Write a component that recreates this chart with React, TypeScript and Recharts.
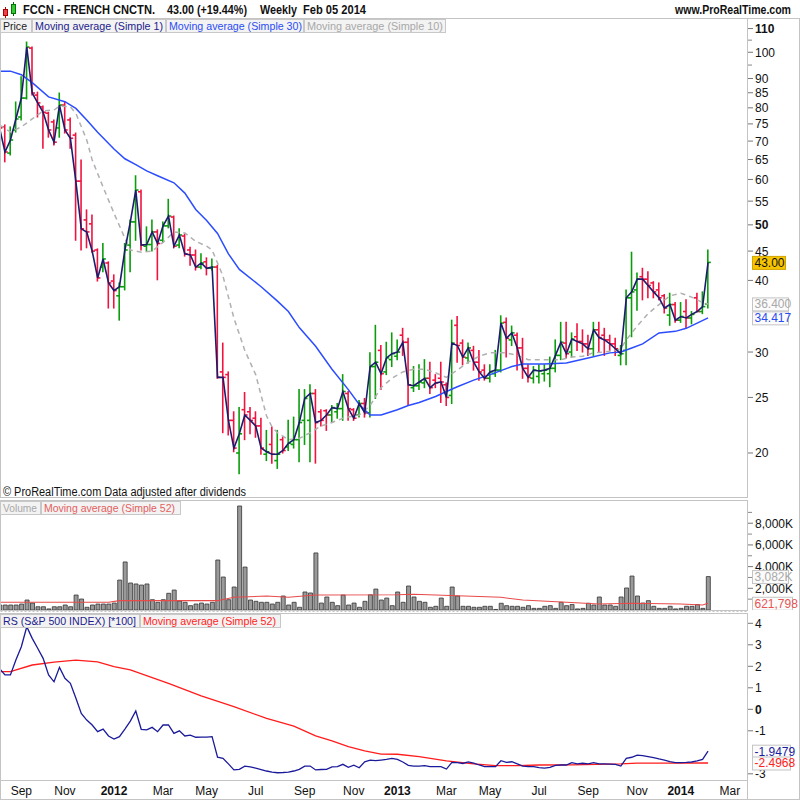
import React from "react";
import { ComposedChart, Bar, Line, XAxis, YAxis } from "recharts";

const FONT = '"Liberation Sans", Arial, Helvetica, sans-serif';

// ---------- weekly OHLC (price) ----------
const OPEN = [
  74.4, 74.1, 66.7, 73.2, 77.1, 83.2, 101.7, 84.2, 80.3, 78.3,
  75.6, 73.8, 80.9, 76.2, 71.7, 59.6, 51.0, 50.2, 45.2, 42.2,
  42.9, 39.9, 37.6, 39.0, 46.1, 50.6, 57.1, 45.9, 46.2, 48.6,
  47.0, 49.8, 51.6, 46.1, 47.8, 45.2, 44.3, 42.2, 43.1, 42.0,
  42.2, 27.7, 27.4, 22.8, 20.0, 23.8, 23.6, 23.0, 22.3, 19.9,
  20.7, 19.4, 21.1, 20.5, 20.7, 21.1, 22.8, 22.8, 25.4, 23.6,
  23.7, 23.3, 23.6, 23.9, 25.4, 23.8, 23.3, 24.4, 23.5, 28.3,
  30.2, 27.7, 29.1, 29.5, 32.1, 31.2, 26.0, 26.2, 26.5, 27.0,
  26.8, 27.0, 26.3, 25.2, 33.4, 31.1, 29.3, 30.2, 28.8, 27.9,
  27.0, 27.5, 27.9, 33.8, 31.5, 32.1, 30.5, 28.1, 27.0, 27.2,
  27.5, 27.5, 28.1, 29.6, 31.1, 30.0, 31.9, 31.3, 31.0, 30.4,
  32.8, 32.1, 31.5, 31.0, 29.6, 30.2, 37.3, 38.5, 40.6, 40.2,
  39.6, 38.5, 37.6, 34.8, 36.3, 34.1, 35.3, 34.4, 37.3, 35.3,
  36.4,
];
const HIGH = [
  76.2, 74.7, 74.1, 81.9, 90.6, 104.2, 102.1, 85.2, 80.6, 78.6,
  76.2, 84.9, 81.9, 76.8, 72.3, 64.9, 53.1, 52.0, 45.4, 46.4,
  43.1, 40.9, 39.6, 46.4, 51.0, 60.9, 57.5, 49.6, 51.0, 49.0,
  50.6, 55.4, 51.8, 49.2, 48.2, 45.7, 45.2, 44.5, 43.8, 43.6,
  42.5, 31.1, 27.7, 23.6, 24.0, 25.5, 24.0, 23.6, 23.0, 21.9,
  22.2, 21.9, 21.3, 22.8, 23.1, 25.8, 25.8, 26.3, 25.8, 23.8,
  23.8, 24.2, 24.4, 27.4, 25.6, 23.9, 24.7, 24.9, 29.9, 33.4,
  30.8, 31.2, 32.4, 31.5, 33.0, 31.7, 28.3, 28.5, 29.1, 28.8,
  27.4, 28.8, 26.5, 34.1, 34.6, 31.5, 31.1, 30.7, 30.2, 28.5,
  28.5, 30.2, 34.7, 34.4, 33.3, 32.4, 31.7, 28.5, 28.3, 28.5,
  28.5, 29.4, 31.5, 33.8, 33.8, 32.4, 33.6, 32.8, 32.1, 33.8,
  33.8, 33.0, 32.1, 31.7, 30.8, 38.5, 44.8, 41.2, 42.0, 41.4,
  39.8, 39.6, 37.8, 38.0, 36.6, 36.6, 37.0, 35.3, 38.0, 38.2,
  45.2,
];
const LOW = [
  72.6, 64.4, 66.2, 72.6, 76.2, 82.9, 84.2, 77.1, 68.0, 71.1,
  68.9, 71.1, 72.3, 68.0, 47.0, 45.2, 45.6, 44.8, 39.9, 41.4,
  35.8, 35.8, 34.1, 38.5, 41.4, 47.0, 45.2, 45.0, 45.0, 40.1,
  46.6, 49.4, 45.6, 45.6, 44.1, 42.5, 41.7, 41.9, 40.9, 41.7,
  27.0, 21.7, 21.5, 20.1, 18.4, 21.1, 21.6, 21.3, 19.9, 19.4,
  19.2, 18.8, 20.0, 20.2, 20.4, 19.3, 20.7, 19.3, 19.2, 22.3,
  21.9, 22.6, 23.0, 22.8, 22.8, 22.8, 23.1, 23.1, 23.1, 24.9,
  25.8, 27.4, 28.3, 29.1, 29.6, 24.2, 25.6, 25.8, 26.0, 25.4,
  26.0, 24.5, 24.2, 24.4, 28.8, 28.5, 28.7, 27.9, 26.8, 26.8,
  26.6, 27.2, 27.7, 29.4, 30.8, 27.9, 27.0, 26.6, 26.5, 26.5,
  26.7, 26.1, 27.7, 29.1, 29.3, 29.4, 30.2, 30.0, 29.6, 29.6,
  30.0, 29.6, 30.2, 29.6, 28.5, 28.5, 31.9, 35.5, 37.0, 37.3,
  37.3, 37.0, 35.1, 33.4, 33.8, 33.8, 33.1, 33.6, 35.3, 35.0,
  35.8,
];
const CLOSE = [
  73.8, 67.0, 70.3, 76.5, 83.2, 102.1, 84.9, 81.6, 78.6, 73.2,
  69.7, 80.9, 73.2, 70.8, 59.6, 49.2, 48.6, 45.0, 40.4, 43.6,
  39.6, 38.4, 39.0, 45.2, 50.6, 57.5, 46.1, 46.2, 48.6, 46.4,
  49.8, 51.8, 45.9, 48.0, 44.5, 44.3, 42.2, 42.9, 42.0, 42.2,
  27.1, 27.1, 22.8, 20.4, 21.6, 23.3, 22.8, 22.3, 20.4, 20.1,
  19.9, 19.9, 20.2, 20.8, 21.1, 22.6, 24.9, 25.4, 22.6, 22.8,
  23.3, 24.0, 23.9, 25.6, 23.9, 23.0, 24.4, 23.5, 28.3, 28.8,
  27.5, 29.3, 29.8, 30.0, 31.2, 26.3, 26.2, 26.6, 27.0, 26.0,
  26.5, 26.6, 25.0, 31.1, 30.8, 29.4, 30.5, 28.8, 27.7, 27.0,
  27.7, 27.9, 33.7, 31.7, 32.4, 30.5, 28.1, 27.1, 27.9, 27.8,
  27.9, 28.1, 29.6, 31.2, 29.8, 31.6, 31.3, 31.0, 30.4, 32.8,
  31.8, 31.5, 31.0, 30.4, 29.8, 37.3, 38.2, 40.2, 40.2, 39.2,
  38.2, 37.3, 35.8, 36.3, 34.1, 34.6, 34.4, 34.9, 35.3, 36.0,
  43.0,
];

// moving averages read from the picture: [week index, value]
const SMA30_PTS = [
  [0, 92.7], [2, 92.7], [4, 91.4], [6, 88.5], [9, 83.6], [12, 82.0], [14, 79.8],
  [16, 76.2], [18, 72.5], [21, 67.8], [23, 65.2], [25, 63.7], [27, 62.1], [29, 60.9],
  [32, 59.2], [34, 56.8], [36, 53.2], [38, 50.9], [40, 48.3], [42, 44.5], [44, 41.8],
  [48, 39.0], [51, 36.8], [53, 35.3], [55, 33.1], [58, 30.7], [61, 28.0], [64, 25.8],
  [66, 24.3], [68, 23.3], [70, 23.3], [73, 23.8], [75, 24.2], [77, 24.5], [80, 25.1],
  [82, 25.6], [84, 26.1], [87, 26.8], [90, 27.4], [94, 28.3], [96, 28.6], [100, 28.6],
  [104, 28.7], [108, 29.3], [112, 29.9], [114, 30.0], [116, 30.5], [118, 31.0],
  [121, 32.4], [124, 32.6], [126, 33.0], [128, 33.7], [130, 34.417],
];
const SMA10_PTS = [
  [0, 74.7], [2, 72.6], [4, 74.1], [6, 76.5], [8, 79.0], [10, 79.3], [11, 80.6],
  [13, 80.3], [14, 78.3], [16, 70.3], [17, 64.9], [19, 58.2], [21, 52.4], [23, 47.4],
  [24, 45.2], [26, 44.8], [28, 45.0], [30, 46.6], [32, 48.6], [34, 48.4], [36, 46.8],
  [38, 45.9], [39, 45.2], [41, 40.7], [43, 34.4], [45, 30.2], [47, 27.4], [48, 25.2],
  [49, 23.2], [50, 22.2], [51, 21.7], [53, 21.1], [55, 21.2], [57, 21.7], [59, 22.3],
  [61, 22.6], [63, 23.0], [66, 23.3], [68, 24.2], [70, 26.0], [72, 27.0], [74, 27.7],
  [76, 28.0], [78, 28.0], [80, 27.6], [82, 27.1], [84, 27.9], [86, 28.8], [88, 29.5],
  [90, 29.9], [93, 29.9], [95, 29.6], [97, 29.1], [99, 29.1], [101, 29.1], [103, 29.1],
  [105, 29.4], [107, 29.5], [109, 29.9], [111, 30.0], [113, 30.2], [114, 30.4],
  [115, 31.5], [117, 33.3], [119, 35.0], [121, 36.3], [123, 37.6], [125, 38.0],
  [127, 37.4], [129, 36.6], [130, 36.4],
];

// ---------- volume (thousands) ----------
const VOLUME_K = [
  460,
  460, 460, 460, 550, 920, 640, 300, 300, 100, 300,
  300, 460, 300, 1380, 1010, 250, 460, 550, 550, 550,
  640, 2760, 4430, 2490, 2400, 2300, 2400, 950, 710, 950,
  1540, 1840, 830, 710, 400, 550, 640, 550, 710, 4610,
  3040, 950, 2120, 9590, 3960, 920, 800, 710, 710, 550,
  710, 1290, 460, 710, 250, 1660, 1570, 5260, 640, 1200,
  710, 400, 1380, 460, 640, 250, 800, 1400, 1930, 920,
  1100, 400, 1660,
  710, 2210, 1200, 800, 710, 250, 340, 1100, 340, 2120,
  1290, 340, 340, 250, 250, 340, 340, 50, 620, 400,
  340, 340, 250, 400, 150, 150, 340, 400, 150, 710,
  400, 500, 100, 150, 620, 460, 1200, 460, 460, 340,
  1200, 2030, 3130, 1290, 640, 860, 340, 150, 150, 340,
  100, 150, 340, 340, 500, 150, 3082,
];
const VOL_MA_PTS = [
  [0, 710], [20, 710], [22, 860], [40, 860], [43, 1170], [49, 1290], [53, 1170],
  [58, 1380], [73, 1400], [76, 1450], [80, 1380], [92, 1170], [96, 920], [104, 710],
  [110, 553], [116, 620], [125, 553], [129, 460], [130, 621.798],
];

// ---------- relative strength vs S&P 500 ----------
const RS = [
  1.90, 1.60, 1.60, 2.29, 2.91, 3.84, 3.30, 2.84, 2.37, 1.60,
  1.28, 1.95, 1.44, 1.21, 0.53, -0.19, -0.50, -0.73, -1.04, -0.92,
  -1.24, -1.38, -1.27, -0.92, -0.55, -0.08, -0.93, -0.96, -0.84, -1.04,
  -0.73, -0.73, -1.12, -1.00, -1.24, -1.20, -1.30, -1.29, -1.29, -1.27,
  -2.23, -2.28, -2.54, -2.82, -2.79, -2.64, -2.68, -2.74, -2.80, -2.87,
  -2.92, -2.95, -2.94, -2.92, -2.87, -2.79, -2.64, -2.64, -2.82, -2.80,
  -2.79, -2.68, -2.67, -2.56, -2.70, -2.60, -2.72, -2.44, -2.36, -2.39,
  -2.36, -2.33, -2.28, -2.33, -2.45, -2.61, -2.64, -2.64, -2.62, -2.67,
  -2.67, -2.67, -2.78, -2.47, -2.48, -2.52, -2.45, -2.50, -2.59, -2.67,
  -2.67, -2.67, -2.39, -2.47, -2.44, -2.54, -2.64, -2.66, -2.67, -2.71,
  -2.74, -2.70, -2.61, -2.59, -2.59, -2.48, -2.54, -2.51, -2.54, -2.48,
  -2.54, -2.54, -2.55, -2.56, -2.64, -2.28, -2.23, -2.13, -2.15, -2.20,
  -2.25, -2.31, -2.36, -2.43, -2.48, -2.48, -2.47, -2.45, -2.40, -2.33,
  -1.9479,
];
const RS_MA_PTS = [
  [0, 1.75], [2, 1.75], [6, 2.06], [10, 2.19], [14, 2.29], [18, 2.21], [21, 1.98],
  [24, 1.83], [31, 1.21], [37, 0.62], [43, 0.12], [49, -0.42], [54, -0.78],
  [58, -1.24], [61, -1.47], [64, -1.74], [67, -1.93], [70, -2.08], [73, -2.09],
  [77, -2.20], [82, -2.40], [87, -2.54], [91, -2.62], [95, -2.62], [99, -2.59],
  [105, -2.58], [114, -2.54], [117, -2.50], [122, -2.50], [130, -2.4968],
];

// ---------- axis ticks & labels ----------
const PRICE_TICKS = [20, 25, 30, 40, 45, 50, 55, 60, 65, 70, 75, 80, 85, 90, 100, 110];
const PRICE_MINOR = [95, 105];
const PRICE_BOLD = [50, 110];
const VOL_TICKS = [2000, 4000, 6000, 8000];
const VOL_MINOR = [1000, 3000, 5000, 7000, 9000];
const RS_TICKS = [4, 3, 2, 1, 0, -1, -3];
const LAST_CLOSE = 43.0;
const LAST_SMA10 = 36.4;
const LAST_SMA30 = 34.417;
const LAST_VOL = 3082;
const LAST_VOL_MA = 621.798;
const LAST_RS = -1.9479;
const LAST_RS_MA = -2.4968;
const MONTH_NAMES = ["Jan", "Feb", "Mar", "Apr", "May", "Jun", "Jul", "Aug", "Sep", "Oct", "Nov", "Dec"];
const LAST_DATE = Date.UTC(2014, 1, 5);
const LAST_INDEX = 130;
const X_DOMAIN: [number, number] = [0.27, 137.33];

const GREEN = "#0a9e0a";
const RED = "#f2123f";
const NAVY = "#1c1c6c";
const BLUE = "#2b4dff";
const GREY = "#b0b0b0";

const N = CLOSE.length;
function sparse(pts: number[][]): (number | null)[] {
  const a: (number | null)[] = new Array(N).fill(null);
  for (const [i, v] of pts) a[i] = v;
  return a;
}
const sma30 = sparse(SMA30_PTS);
const sma10 = sparse(SMA10_PTS);
const volMa = sparse(VOL_MA_PTS);
const rsMa = sparse(RS_MA_PTS);

const data = CLOSE.map((c, i) => ({
  i,
  o: OPEN[i],
  h: HIGH[i],
  l: LOW[i],
  c,
  range: [LOW[i], HIGH[i]],
  sma30: sma30[i],
  sma10: sma10[i],
  vol: VOLUME_K[i],
  volMa: volMa[i],
  rs: RS[i],
  rsMa: rsMa[i],
}));

const monthTicks: { i: number; label: string; year: boolean }[] = [];
{
  let prev = -1;
  const WEEK = 7 * 24 * 3600 * 1000;
  for (let i = 0; i <= 137; i++) {
    const d = new Date(LAST_DATE - (LAST_INDEX - i) * WEEK);
    const m = d.getUTCMonth();
    if (prev !== -1 && m !== prev && m % 2 === 0) {
      monthTicks.push({ i, label: m === 0 ? String(d.getUTCFullYear()) : MONTH_NAMES[m], year: m === 0 });
    }
    prev = m;
  }
}

function OhlcShape(props: any) {
  const { x, y, width, height, payload } = props;
  if (x == null || y == null || !payload) return null;
  const top = Math.min(y, y + height);
  const bot = Math.max(y, y + height);
  const { o, h, l, c } = payload;
  const lh = Math.log(h);
  const span = lh - Math.log(l) || 1;
  const at = (v: number) => top + ((lh - Math.log(v)) / span) * (bot - top);
  const cx = x + width / 2;
  const col = c >= o ? GREEN : RED;
  return (
    <g stroke={col} strokeWidth={1.6}>
      <line x1={cx} x2={cx} y1={top - 0.5} y2={bot + 0.5} />
      <line x1={cx - 3} x2={cx} y1={at(o)} y2={at(o)} />
      <line x1={cx} x2={cx + 3} y1={at(c)} y2={at(c)} />
    </g>
  );
}

function ValueBox({ x, y, text, color, bg, border, w }: any) {
  return (
    <g>
      <rect x={x + 4.5} y={y - 6} width={w} height={13} fill={bg} stroke={border} />
      <text x={x + 6.5} y={y + 4.5} fontSize={12} fontFamily={FONT} fill={color}>
        {text}
      </text>
    </g>
  );
}

function PlainTick({ x, y, label, bold }: any) {
  return (
    <g>
      <line x1={x} x2={x + 5} y1={y} y2={y} stroke="#777" />
      <text x={x + 7} y={y + 4.5} fontSize={12} fontFamily={FONT} fill="#111" fontWeight={bold ? "bold" : "normal"}>
        {label}
      </text>
    </g>
  );
}

function PriceTick(props: any) {
  const { x, y, payload } = props;
  const v = payload.value;
  if (v === LAST_CLOSE)
    return <ValueBox x={x} y={y} text={LAST_CLOSE.toFixed(2)} color="#111" bg="#f6c400" border="#d0a400" w={33} />;
  if (v === LAST_SMA10)
    return <ValueBox x={x} y={y} text={LAST_SMA10.toFixed(3)} color="#a8a8a8" bg="#fbfbfb" border="#c4c4c4" w={36} />;
  if (v === LAST_SMA30)
    return <ValueBox x={x} y={y} text={LAST_SMA30.toFixed(3)} color="#2a4cf0" bg="#fbfbfb" border="#c4c4c4" w={36} />;
  if (PRICE_MINOR.includes(v)) return <line x1={x} x2={x + 4} y1={y} y2={y} stroke="#888" />;
  return <PlainTick x={x} y={y} label={String(v)} bold={PRICE_BOLD.includes(v)} />;
}

function VolTick(props: any) {
  const { x, y, payload } = props;
  const v = payload.value;
  if (v === LAST_VOL)
    return <ValueBox x={x} y={y} text={`${LAST_VOL.toLocaleString("en-US")}K`} color="#a8a8a8" bg="#fbfbfb" border="#c4c4c4" w={36} />;
  if (v === LAST_VOL_MA)
    return <ValueBox x={x} y={y} text={Math.round(LAST_VOL_MA * 1000).toLocaleString("en-US")} color="#e85454" bg="#fbfbfb" border="#c4c4c4" w={40} />;
  if (VOL_MINOR.includes(v)) return <line x1={x} x2={x + 4} y1={y} y2={y} stroke="#888" />;
  return <PlainTick x={x} y={y} label={`${v.toLocaleString("en-US")}K`} />;
}

function RsTick(props: any) {
  const { x, y, payload } = props;
  const v = payload.value;
  if (v === LAST_RS)
    return <ValueBox x={x} y={y} text={LAST_RS.toFixed(4)} color="#1c1ca0" bg="#fbfbfb" border="#c4c4c4" w={38} />;
  if (v === LAST_RS_MA)
    return <ValueBox x={x} y={y} text={LAST_RS_MA.toFixed(4)} color="#ff2020" bg="#fbfbfb" border="#c4c4c4" w={38} />;
  return <PlainTick x={x} y={y} label={String(v)} bold={v === 0} />;
}

function MonthTick(props: any) {
  const { x, y, payload } = props;
  const t = monthTicks.find((m) => m.i === payload.value);
  if (!t) return null;
  return (
    <text x={x} y={y + 15} textAnchor="middle" fontSize={12} fontFamily={FONT} fill="#111" fontWeight={t.year ? "bold" : "normal"}>
      {t.label}
    </text>
  );
}

function LegendBox({ x, y, w, tw, text, color }: any) {
  return (
    <g>
      <rect x={x + 0.5} y={y + 0.5} width={w} height={13} fill="#f3f3f3" stroke="#c8c8c8" />
      <text x={x + 3} y={y + 11} fontSize={11} fontFamily={FONT} fill={color} textLength={tw} lengthAdjust="spacingAndGlyphs">
        {text}
      </text>
    </g>
  );
}

function HeadText({ x, w, text }: any) {
  return (
    <text x={x} y={14} textLength={w} lengthAdjust="spacingAndGlyphs">
      {text}
    </text>
  );
}

export default function App() {
  return (
    <div style={{ position: "absolute", left: 0, top: 0, width: 800, height: 800, background: "#fff", overflow: "hidden", fontFamily: FONT }}>
      {/* price panel */}
      <div style={{ position: "absolute", left: 0, top: 19 }}>
        <ComposedChart width={800} height={478} data={data} margin={{ top: 0, right: 0, bottom: 0, left: 1 }}>
          <XAxis dataKey="i" type="number" domain={X_DOMAIN} allowDataOverflow hide />
          <YAxis
            orientation="right"
            type="number"
            scale="log"
            domain={[16.76, 114.3]}
            allowDataOverflow
            ticks={[...PRICE_TICKS, ...PRICE_MINOR, LAST_CLOSE, LAST_SMA10, LAST_SMA30]}
            interval={0}
            tick={PriceTick}
            tickSize={0}
            tickMargin={0}
            axisLine={false}
            tickLine={false}
            width={52}
          />
          <Line dataKey="sma10" stroke={GREY} strokeWidth={1.5} strokeDasharray="5 4" dot={false} connectNulls isAnimationActive={false} />
          <Bar dataKey="range" barSize={5} shape={OhlcShape} isAnimationActive={false} />
          <Line dataKey="sma30" stroke={BLUE} strokeWidth={1.5} dot={false} connectNulls isAnimationActive={false} />
          <Line dataKey="c" stroke={NAVY} strokeWidth={1.6} dot={false} isAnimationActive={false} />
        </ComposedChart>
      </div>

      {/* volume panel */}
      <div style={{ position: "absolute", left: 0, top: 501 }}>
        <ComposedChart width={800} height={109} data={data} margin={{ top: 0, right: 0, bottom: 0, left: 1 }}>
          <XAxis dataKey="i" type="number" domain={X_DOMAIN} allowDataOverflow hide />
          <YAxis
            orientation="right"
            type="number"
            domain={[0, 10050]}
            allowDataOverflow
            ticks={[...VOL_TICKS, ...VOL_MINOR, LAST_VOL, LAST_VOL_MA]}
            interval={0}
            tick={VolTick}
            tickSize={0}
            tickMargin={0}
            axisLine={false}
            tickLine={false}
            width={52}
          />
          <Bar dataKey="vol" barSize={4} fill="#9a9a9a" stroke="#333" strokeWidth={0.8} isAnimationActive={false} />
          <Line dataKey="volMa" stroke="#e84a4a" strokeWidth={1.1} dot={false} connectNulls isAnimationActive={false} />
        </ComposedChart>
      </div>

      {/* RS panel */}
      <div style={{ position: "absolute", left: 0, top: 613 }}>
        <ComposedChart width={800} height={187} data={data} margin={{ top: 0, right: 0, bottom: 0, left: 1 }}>
          <XAxis
            dataKey="i"
            type="number"
            domain={X_DOMAIN}
            allowDataOverflow
            ticks={monthTicks.map((m) => m.i)}
            interval={0}
            tick={MonthTick}
            tickSize={0}
            tickMargin={0}
            axisLine={false}
            tickLine={false}
            height={20}
          />
          <YAxis
            orientation="right"
            type="number"
            domain={[-3.288, 4.479]}
            allowDataOverflow
            ticks={[...RS_TICKS, LAST_RS, LAST_RS_MA]}
            interval={0}
            tick={RsTick}
            tickSize={0}
            tickMargin={0}
            axisLine={false}
            tickLine={false}
            width={52}
          />
          <Line dataKey="rsMa" stroke="#ff1c1c" strokeWidth={1.3} dot={false} connectNulls isAnimationActive={false} />
          <Line dataKey="rs" stroke="#1a1a9a" strokeWidth={1.3} dot={false} isAnimationActive={false} />
        </ComposedChart>
      </div>

      {/* frame, header and legends */}
      <svg width={800} height={800} style={{ position: "absolute", left: 0, top: 0, pointerEvents: "none" }}>
        <g fill="none" stroke="#c4c4c4">
          <line x1={0} x2={800} y1={18.5} y2={18.5} />
          <rect x={0.5} y={18.5} width={747} height={479} />
          <rect x={0.5} y={500.5} width={747} height={110} />
          <line x1={0.5} x2={747.5} y1={611.5} y2={611.5} strokeDasharray="2 2" />
          <rect x={0.5} y={613.5} width={747} height={167} />
          <line x1={799.5} x2={799.5} y1={18.5} y2={800} />
          <line x1={747.5} x2={747.5} y1={780} y2={800} />
          <line x1={0} x2={800} y1={799.5} y2={799.5} />
          <line x1={0.5} x2={0.5} y1={780} y2={800} />
        </g>

        {/* header icon */}
        <g>
          <line x1={5.5} x2={5.5} y1={7} y2={18} stroke="#b00" />
          <rect x={3.5} y={9.5} width={4} height={6} fill="#e8434f" stroke="#a00" />
          <line x1={13.5} x2={13.5} y1={2} y2={16} stroke="#060" />
          <rect x={11.5} y={4.5} width={4} height={9} fill="#36c836" stroke="#070" />
        </g>
        <g fontFamily={FONT} fontSize={12} fontWeight="bold" fill="#111">
          <HeadText x={23} w={132} text="FCCN - FRENCH CNCTN." />
          <HeadText x={167} w={80} text="43.00 (+19.44%)" />
          <HeadText x={260} w={37} text="Weekly" />
          <HeadText x={303} w={63} text="Feb 05 2014" />
          <HeadText x={675} w={116} text="www.ProRealTime.com" />
        </g>

        <LegendBox x={0} y={19} w={31} tw={24} text="Price" color="#222" />
        <LegendBox x={32} y={19} w={133} tw={128} text="Moving average (Simple 1)" color="#22228c" />
        <LegendBox x={166} y={19} w={137} tw={133} text="Moving average (Simple 30)" color="#2b4cf5" />
        <LegendBox x={304} y={19} w={141} tw={136} text="Moving average (Simple 10)" color="#a8a8a8" />

        <text x={3} y={496} fontSize={12} fontFamily={FONT} fill="#111" textLength={243} lengthAdjust="spacingAndGlyphs">
          © ProRealTime.com  Data adjusted after dividends
        </text>

        <LegendBox x={0} y={501} w={40} tw={34} text="Volume" color="#a8a8a8" />
        <LegendBox x={41} y={501} w={139} tw={131} text="Moving average (Simple 52)" color="#e26060" />

        <LegendBox x={0} y={614} w={139} tw={133} text="RS (S&P 500 INDEX) [*100]" color="#1c1c8c" />
        <LegendBox x={140} y={614} w={140} tw={133} text="Moving average (Simple 52)" color="#ff2424" />
      </svg>
    </div>
  );
}
